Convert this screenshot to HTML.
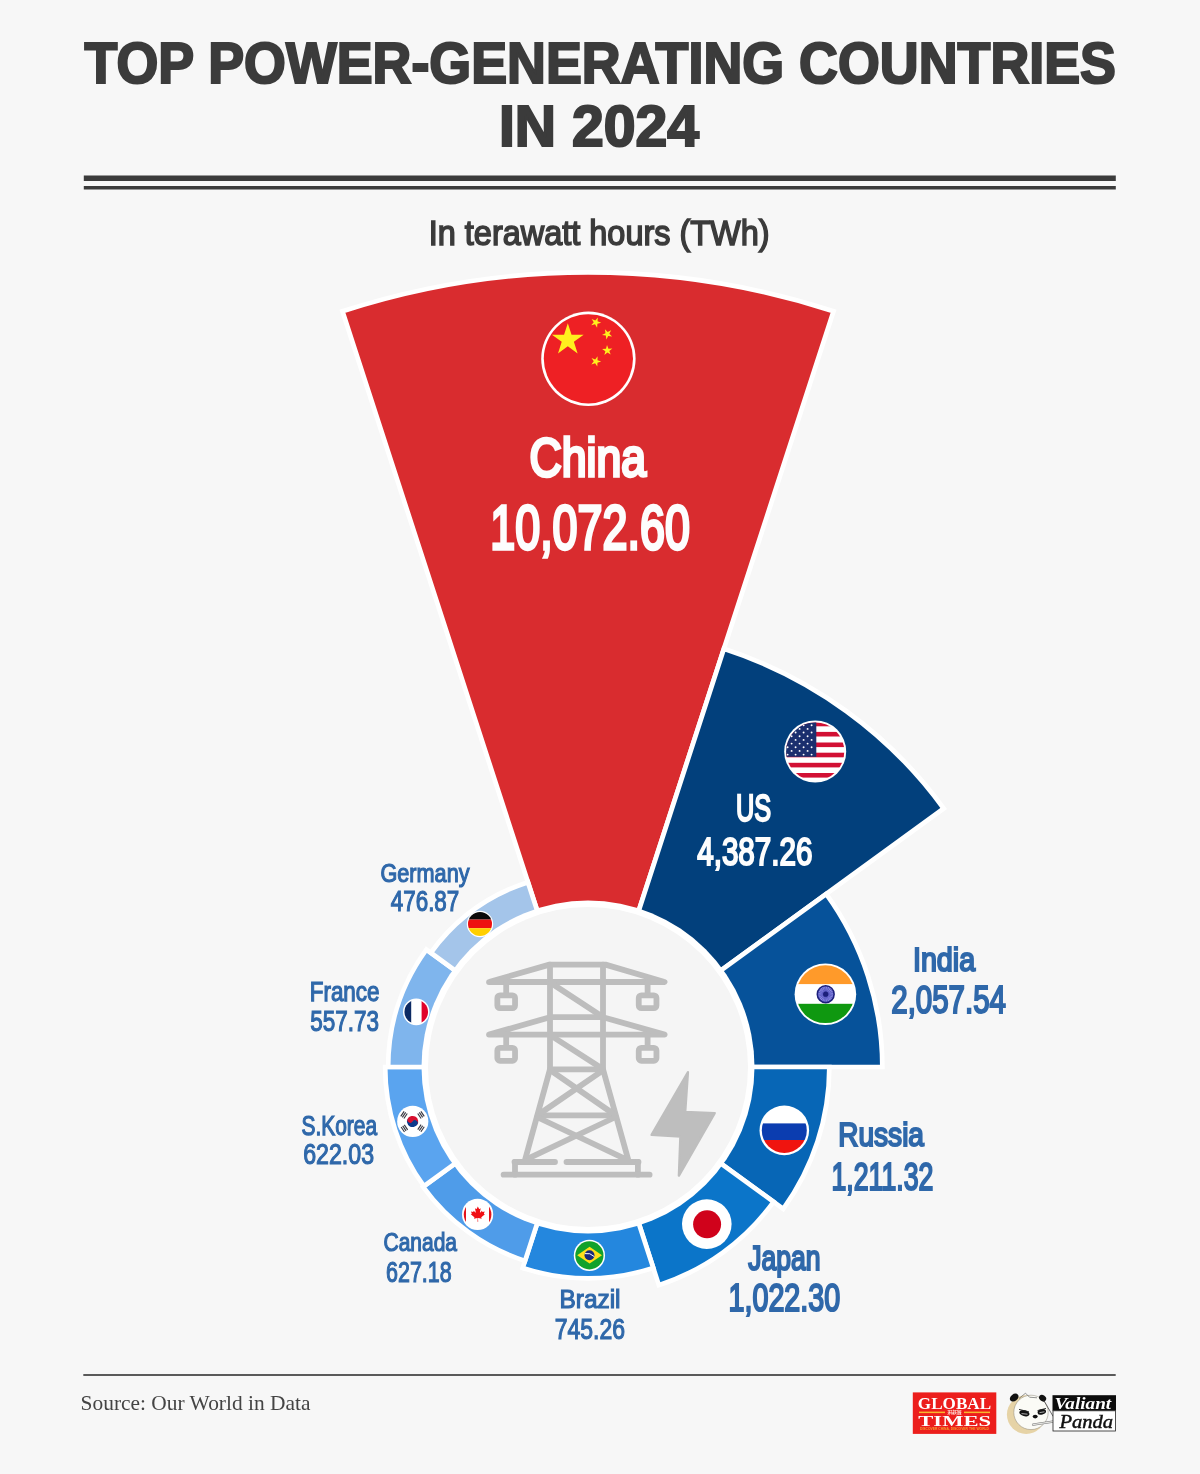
<!DOCTYPE html>
<html lang="en"><head><meta charset="utf-8"><title>Top power-generating countries in 2024</title>
<style>html,body{margin:0;padding:0;background:#f7f7f7}svg{display:block}text{white-space:pre}</style></head><body>
<svg width="1200" height="1474" viewBox="0 0 1200 1474" role="img" aria-label="Top power-generating countries in 2024">
<rect width="1200" height="1474" fill="#f7f7f7"/>
<!-- header -->
<text x="84.50" y="83.00" textLength="1031.50" lengthAdjust="spacingAndGlyphs" font-family="'Liberation Sans', sans-serif" font-weight="bold" font-size="57.32" fill="#3b3b3b" stroke="#3b3b3b" stroke-width="2.2">TOP POWER-GENERATING COUNTRIES</text>
<text x="498.95" y="146.00" textLength="200.00" lengthAdjust="spacingAndGlyphs" font-family="'Liberation Sans', sans-serif" font-weight="bold" font-size="57.99" fill="#3b3b3b" stroke="#3b3b3b" stroke-width="2.2">IN 2024</text>
<rect x="83.8" y="175.5" width="1032" height="5.5" fill="#3b3b3b"/>
<rect x="83.8" y="186" width="1032" height="3.5" fill="#3b3b3b"/>
<text x="428.75" y="245.00" textLength="340.85" lengthAdjust="spacingAndGlyphs" font-family="'Liberation Sans', sans-serif" font-weight="normal" font-size="35.63" fill="#3b3b3b" stroke="#3b3b3b" stroke-width="1.6">In terawatt hours (TWh)</text>
<!-- chart sectors -->
<g>
<path d="M541.65,924.34 L342.47,311.34 A794.55,794.55 0 0 1 833.53,311.34 L634.35,924.34 A150,150 0 0 0 541.65,924.34 Z" fill="#d92c2f" stroke="#ffffff" stroke-width="4.7" stroke-linejoin="miter"/>
<path d="M634.35,924.34 L723.89,648.77 A439.75,439.75 0 0 1 943.77,808.52 L709.35,978.83 A150,150 0 0 0 634.35,924.34 Z" fill="#02407c" stroke="#ffffff" stroke-width="4.7" stroke-linejoin="miter"/>
<path d="M709.35,978.83 L826.13,893.99 A294.35,294.35 0 0 1 882.35,1067.00 L738.00,1067.00 A150,150 0 0 0 709.35,978.83 Z" fill="#06529a" stroke="#ffffff" stroke-width="4.7" stroke-linejoin="miter"/>
<path d="M738.00,1067.00 L829.35,1067.00 A241.35,241.35 0 0 1 783.26,1208.86 L709.35,1155.17 A150,150 0 0 0 738.00,1067.00 Z" fill="#0766b6" stroke="#ffffff" stroke-width="4.7" stroke-linejoin="miter"/>
<path d="M709.35,1155.17 L773.55,1201.81 A229.35,229.35 0 0 1 658.87,1285.12 L634.35,1209.66 A150,150 0 0 0 709.35,1155.17 Z" fill="#0b75c9" stroke="#ffffff" stroke-width="4.7" stroke-linejoin="miter"/>
<path d="M634.35,1209.66 L653.31,1268.01 A211.35,211.35 0 0 1 522.69,1268.01 L541.65,1209.66 A150,150 0 0 0 634.35,1209.66 Z" fill="#2487de" stroke="#ffffff" stroke-width="4.7" stroke-linejoin="miter"/>
<path d="M541.65,1209.66 L525.01,1260.87 A203.85,203.85 0 0 1 423.08,1186.82 L466.65,1155.17 A150,150 0 0 0 541.65,1209.66 Z" fill="#4f9ce9" stroke="#ffffff" stroke-width="4.7" stroke-linejoin="miter"/>
<path d="M466.65,1155.17 L423.89,1186.23 A202.85,202.85 0 0 1 385.15,1067.00 L438.00,1067.00 A150,150 0 0 0 466.65,1155.17 Z" fill="#5aa4ef" stroke="#ffffff" stroke-width="4.7" stroke-linejoin="miter"/>
<path d="M438.00,1067.00 L388.15,1067.00 A199.85,199.85 0 0 1 426.32,949.53 L466.65,978.83 A150,150 0 0 0 438.00,1067.00 Z" fill="#7fb5ed" stroke="#ffffff" stroke-width="4.7" stroke-linejoin="miter"/>
<path d="M466.65,978.83 L430.77,952.76 A194.35,194.35 0 0 1 527.94,882.16 L541.65,924.34 A150,150 0 0 0 466.65,978.83 Z" fill="#a4c5ea" stroke="#ffffff" stroke-width="4.7" stroke-linejoin="miter"/>
</g>
<circle cx="588.0" cy="1067.0" r="166.5" fill="#ffffff"/>
<circle cx="588.0" cy="1067.0" r="160" fill="#f5f5f5"/>
<!-- tower icon -->
<g fill="none" stroke="#bdbdbd" stroke-width="5.8" stroke-linecap="round" stroke-linejoin="round">
<path d="M489,982 L549.5,964.6 L605.5,964.6 L664.6,982 Z"/>
<path d="M489,1034.6 L550,1017.2 L603,1017.2 L664.6,1034.6 Z"/>
<path d="M550,964.6 L550,1069.3 L525,1160"/>
<path d="M603,964.6 L603,1069.3 L628.3,1160"/>
<path d="M551,983 L602,1016.5"/>
<path d="M551,1035.6 L602,1068.5"/>
<path d="M550,1069.3 L603,1069.3"/>
<path d="M537.7,1115.3 L613.7,1115.3"/>
<path d="M552,1071.3 L611.5,1112.5"/>
<path d="M601.5,1071.3 L541.5,1112.5"/>
<path d="M540,1118.5 L623.5,1158.2"/>
<path d="M612.5,1118.5 L529,1158.2"/>
<path d="M514.5,1162 L555,1162"/>
<path d="M566.5,1162 L638.5,1162"/>
<path d="M515,1162 L515,1174.7"/>
<path d="M637.9,1162 L637.9,1174.7"/>
<path d="M503.6,1174.7 L649.6,1174.7"/>
<path d="M506.2,982 L506.2,994"/>
<rect x="497.35" y="995.30" width="17.7" height="12.9" rx="2.6"/>
<path d="M506.2,1034.6 L506.2,1046.6"/>
<rect x="497.35" y="1047.90" width="17.7" height="12.9" rx="2.6"/>
<path d="M647.6,982 L647.6,994"/>
<rect x="638.75" y="995.30" width="17.7" height="12.9" rx="2.6"/>
<path d="M647.6,1034.6 L647.6,1046.6"/>
<rect x="638.75" y="1047.90" width="17.7" height="12.9" rx="2.6"/>
</g>
<path d="M687.9,1072.3 L651.6,1134.9 L680.4,1136.5 L678.9,1175.6 L714.7,1113.1 L685.2,1112 Z" fill="#bebebe" stroke="#bebebe" stroke-width="2.4" stroke-linejoin="round"/>
<!-- flags -->
<defs>
<clipPath id="cUS"><circle cx="815.2" cy="751.5" r="29.1"/></clipPath>
<clipPath id="cIN"><circle cx="825.4" cy="994.2" r="28.9"/></clipPath>
<clipPath id="cRU"><circle cx="784.3" cy="1130.4" r="22.5"/></clipPath>
<clipPath id="cBR"><circle cx="589.4" cy="1255.4" r="14.2"/></clipPath>
<clipPath id="cCA"><circle cx="477.6" cy="1214.4" r="13.8"/></clipPath>
<clipPath id="cFR"><circle cx="416.25" cy="1011.9" r="11.8"/></clipPath>
<clipPath id="cDE"><circle cx="480" cy="924" r="12"/></clipPath>
</defs>
<g><circle cx="588.4" cy="358.8" r="47.2" fill="#ffffff"/><circle cx="588.4" cy="358.8" r="44.6" fill="#ee2024"/>
<polygon points="567.80,323.20 571.55,334.74 583.68,334.74 573.87,341.87 577.62,353.41 567.80,346.28 557.98,353.41 561.73,341.87 551.92,334.74 564.05,334.74" fill="#fff01e"/>
<polygon points="591.22,325.26 593.74,322.26 591.66,318.93 595.30,320.40 597.82,317.39 597.55,321.31 601.19,322.78 597.38,323.73 597.11,327.64 595.03,324.31" fill="#fff01e"/>
<polygon points="601.96,334.88 605.47,333.14 604.90,329.26 607.65,332.07 611.16,330.32 609.34,333.80 612.08,336.61 608.22,335.95 606.40,339.42 605.83,335.54" fill="#fff01e"/>
<polygon points="602.08,349.01 606.00,348.80 607.01,345.01 608.42,348.67 612.34,348.45 609.29,350.93 610.71,354.59 607.41,352.46 604.37,354.93 605.38,351.14" fill="#fff01e"/>
<polygon points="591.52,358.11 595.21,359.42 597.60,356.31 597.50,360.23 601.20,361.54 597.44,362.66 597.33,366.58 595.11,363.34 591.35,364.46 593.74,361.35" fill="#fff01e"/>
</g>
<g><circle cx="815.2" cy="751.5" r="31" fill="#ffffff"/><g clip-path="url(#cUS)">
<rect x="780" y="715" width="70" height="70" fill="#ffffff"/>
<rect x="780" y="721.7" width="70" height="4.6" fill="#d21034"/>
<rect x="780" y="731.9" width="70" height="4.6" fill="#d21034"/>
<rect x="780" y="742.5" width="70" height="4.6" fill="#d21034"/>
<rect x="780" y="752.7" width="70" height="4.6" fill="#d21034"/>
<rect x="780" y="762.8" width="70" height="4.6" fill="#d21034"/>
<rect x="780" y="773.0" width="70" height="4.6" fill="#d21034"/>
<rect x="780" y="715" width="36.3" height="41.8" fill="#1b2f6e"/>
<g fill="#ffffff"><circle cx="811.6" cy="725.2" r="0.95"/><circle cx="803.6" cy="725.2" r="0.95"/><circle cx="795.6" cy="725.2" r="0.95"/><circle cx="787.6" cy="725.2" r="0.95"/><circle cx="779.6" cy="725.2" r="0.95"/><circle cx="807.6" cy="728.9" r="0.95"/><circle cx="799.6" cy="728.9" r="0.95"/><circle cx="791.6" cy="728.9" r="0.95"/><circle cx="783.6" cy="728.9" r="0.95"/><circle cx="775.6" cy="728.9" r="0.95"/><circle cx="811.6" cy="732.5" r="0.95"/><circle cx="803.6" cy="732.5" r="0.95"/><circle cx="795.6" cy="732.5" r="0.95"/><circle cx="787.6" cy="732.5" r="0.95"/><circle cx="779.6" cy="732.5" r="0.95"/><circle cx="807.6" cy="736.2" r="0.95"/><circle cx="799.6" cy="736.2" r="0.95"/><circle cx="791.6" cy="736.2" r="0.95"/><circle cx="783.6" cy="736.2" r="0.95"/><circle cx="775.6" cy="736.2" r="0.95"/><circle cx="811.6" cy="739.9" r="0.95"/><circle cx="803.6" cy="739.9" r="0.95"/><circle cx="795.6" cy="739.9" r="0.95"/><circle cx="787.6" cy="739.9" r="0.95"/><circle cx="779.6" cy="739.9" r="0.95"/><circle cx="807.6" cy="743.6" r="0.95"/><circle cx="799.6" cy="743.6" r="0.95"/><circle cx="791.6" cy="743.6" r="0.95"/><circle cx="783.6" cy="743.6" r="0.95"/><circle cx="775.6" cy="743.6" r="0.95"/><circle cx="811.6" cy="747.2" r="0.95"/><circle cx="803.6" cy="747.2" r="0.95"/><circle cx="795.6" cy="747.2" r="0.95"/><circle cx="787.6" cy="747.2" r="0.95"/><circle cx="779.6" cy="747.2" r="0.95"/><circle cx="807.6" cy="750.9" r="0.95"/><circle cx="799.6" cy="750.9" r="0.95"/><circle cx="791.6" cy="750.9" r="0.95"/><circle cx="783.6" cy="750.9" r="0.95"/><circle cx="775.6" cy="750.9" r="0.95"/><circle cx="811.6" cy="754.6" r="0.95"/><circle cx="803.6" cy="754.6" r="0.95"/><circle cx="795.6" cy="754.6" r="0.95"/><circle cx="787.6" cy="754.6" r="0.95"/><circle cx="779.6" cy="754.6" r="0.95"/></g>
</g></g>
<g><circle cx="825.4" cy="994.2" r="30.8" fill="#ffffff"/><g clip-path="url(#cIN)">
<rect x="790" y="960" width="70" height="24.3" fill="#ff9a2a"/>
<rect x="790" y="984.3" width="70" height="19.5" fill="#ffffff"/>
<rect x="790" y="1003.8" width="70" height="26" fill="#0f9810"/>
</g>
<circle cx="825.7" cy="994.2" r="8.4" fill="#8f8fe6" stroke="#1c1f7a" stroke-width="1.6"/>
<path d="M817.70,994.20 L833.70,994.20 M817.97,992.13 L833.43,996.27 M818.77,990.20 L832.63,998.20 M820.04,988.54 L831.36,999.86 M821.70,987.27 L829.70,1001.13 M823.63,986.47 L827.77,1001.93 M825.70,986.20 L825.70,1002.20 M827.77,986.47 L823.63,1001.93 M829.70,987.27 L821.70,1001.13 M831.36,988.54 L820.04,999.86 M832.63,990.20 L818.77,998.20 M833.43,992.13 L817.97,996.27" stroke="#2a2aa0" stroke-width="0.5" fill="none"/>
<circle cx="825.7" cy="994.2" r="2.6" fill="#1c1f7a"/>
</g>
<g><circle cx="784.3" cy="1130.4" r="24.8" fill="#ffffff"/><g clip-path="url(#cRU)">
<rect x="755" y="1123.4" width="60" height="16.6" fill="#0b3db0"/>
<rect x="755" y="1140" width="60" height="20" fill="#f0140f"/>
</g></g>
<g><circle cx="706.8" cy="1224.1" r="24.8" fill="#ffffff"/><circle cx="707.1" cy="1224.3" r="14" fill="#d0021b"/></g>
<g><circle cx="589.4" cy="1255.4" r="15.6" fill="#ffffff"/><circle cx="589.4" cy="1255.4" r="14.1" fill="#12a22c"/>
<polygon points="577.2,1255.2 589.6,1246.7 602,1255.2 589.6,1263.4" fill="#ffe01a"/>
<circle cx="589.5" cy="1255.2" r="5" fill="#1a2a7a"/>
<path d="M584.9,1253.6 Q590,1252.4 594.3,1256.6" stroke="#ffffff" stroke-width="1" fill="none"/>
</g>
<g><circle cx="477.6" cy="1214.4" r="15.6" fill="#ffffff"/><g clip-path="url(#cCA)">
<rect x="460" y="1198" width="6.0" height="33" fill="#e3121b"/>
<rect x="489.0" y="1198" width="6" height="33" fill="#e3121b"/>
</g>
<path transform="translate(477.85,1214.05) scale(0.0038)" d="m-90 2030 45-863a95 95 0 0 0-111-98l-859 151 116-320a65 65 0 0 0-20-73l-941-762 212-99a65 65 0 0 0 34-79l-186-572 542 115a65 65 0 0 0 73-38l105-247 423 454a65 65 0 0 0 111-57l-204-1052 327 189a65 65 0 0 0 91-27l332-652 332 652a65 65 0 0 0 91 27l327-189-204 1052a65 65 0 0 0 111 57l423-454 105 247a65 65 0 0 0 73 38l542-115-186 572a65 65 0 0 0 34 79l212 99-941 762a65 65 0 0 0-20 73l116 320-859-151a95 95 0 0 0-111 98l45 863z" fill="#f00f14"/>
</g>
<g><circle cx="412.75" cy="1121.4" r="15.6" fill="#ffffff"/>
<g transform="rotate(33.7 412.6 1121.5)">
<path d="M407.0,1121.5 A5.6,5.6 0 0 1 418.20000000000005,1121.5 Z" fill="#d8102f"/>
<path d="M407.0,1121.5 A5.6,5.6 0 0 0 418.20000000000005,1121.5 Z" fill="#0b3a8c"/>
<circle cx="409.8" cy="1121.5" r="2.8" fill="#d8102f"/>
<circle cx="415.40000000000003" cy="1121.5" r="2.8" fill="#0b3a8c"/>
</g>
<g transform="translate(404.00,1114.90) rotate(-56)" stroke="#3a3a44" stroke-width="1.15"><path d="M-3,-1.9 H3 M-3,0 H3 M-3,1.9 H3"/></g>
<g transform="translate(421.00,1114.90) rotate(56)" stroke="#3a3a44" stroke-width="1.15"><path d="M-3,-1.9 H3 M-3,0 H3 M-3,1.9 H3"/></g>
<g transform="translate(404.40,1128.40) rotate(56)" stroke="#3a3a44" stroke-width="1.15"><path d="M-3,-1.9 H3 M-3,0 H3 M-3,1.9 H3"/></g>
<g transform="translate(421.00,1128.20) rotate(-56)" stroke="#3a3a44" stroke-width="1.15"><path d="M-3,-1.9 H3 M-3,0 H3 M-3,1.9 H3"/></g>
</g>
<g><circle cx="416.25" cy="1011.9" r="13.3" fill="#ffffff"/><g clip-path="url(#cFR)">
<rect x="400" y="995" width="11.2" height="34" fill="#0c2a63"/>
<rect x="421.6" y="995" width="12" height="34" fill="#e0022a"/>
</g></g>
<g><circle cx="480" cy="924" r="13.2" fill="#ffffff"/><g clip-path="url(#cDE)">
<rect x="465" y="910" width="30" height="9.6" fill="#0a0a0a"/>
<rect x="465" y="919.6" width="30" height="8.6" fill="#ee1010"/>
<rect x="465" y="928.2" width="30" height="10" fill="#ffcf00"/>
</g></g>
<!-- labels -->
<text x="529.55" y="476.10" textLength="116.50" lengthAdjust="spacingAndGlyphs" font-family="'Liberation Sans', sans-serif" font-weight="normal" font-size="53.60" fill="#fdfdfd" stroke="#fdfdfd" stroke-width="3.32">China</text>
<text x="490.25" y="548.70" textLength="199.60" lengthAdjust="spacingAndGlyphs" font-family="'Liberation Sans', sans-serif" font-weight="normal" font-size="62.92" fill="#fdfdfd" stroke="#fdfdfd" stroke-width="3.46">10,072.60</text>
<text x="736.10" y="821.30" textLength="35.05" lengthAdjust="spacingAndGlyphs" font-family="'Liberation Sans', sans-serif" font-weight="normal" font-size="36.56" fill="#fdfdfd" stroke="#fdfdfd" stroke-width="2.27">US</text>
<text x="697.20" y="865.30" textLength="115.30" lengthAdjust="spacingAndGlyphs" font-family="'Liberation Sans', sans-serif" font-weight="normal" font-size="38.45" fill="#fdfdfd" stroke="#fdfdfd" stroke-width="2.11">4,387.26</text>
<text x="912.90" y="970.70" textLength="62.35" lengthAdjust="spacingAndGlyphs" font-family="'Liberation Sans', sans-serif" font-weight="normal" font-size="33.76" fill="#2f68aa" stroke="#2f68aa" stroke-width="2.09">India</text>
<text x="891.25" y="1013.30" textLength="114.75" lengthAdjust="spacingAndGlyphs" font-family="'Liberation Sans', sans-serif" font-weight="normal" font-size="38.45" fill="#2f68aa" stroke="#2f68aa" stroke-width="2.11">2,057.54</text>
<text x="838.20" y="1146.00" textLength="85.80" lengthAdjust="spacingAndGlyphs" font-family="'Liberation Sans', sans-serif" font-weight="normal" font-size="33.43" fill="#2f68aa" stroke="#2f68aa" stroke-width="2.07">Russia</text>
<text x="831.40" y="1189.60" textLength="102.00" lengthAdjust="spacingAndGlyphs" font-family="'Liberation Sans', sans-serif" font-weight="normal" font-size="37.94" fill="#2f68aa" stroke="#2f68aa" stroke-width="2.09">1,211.32</text>
<text x="748.20" y="1269.60" textLength="72.25" lengthAdjust="spacingAndGlyphs" font-family="'Liberation Sans', sans-serif" font-weight="normal" font-size="34.93" fill="#2f68aa" stroke="#2f68aa" stroke-width="2.17">Japan</text>
<text x="728.50" y="1310.70" textLength="111.75" lengthAdjust="spacingAndGlyphs" font-family="'Liberation Sans', sans-serif" font-weight="normal" font-size="38.41" fill="#2f68aa" stroke="#2f68aa" stroke-width="2.11">1,022.30</text>
<text x="559.50" y="1307.50" textLength="61.00" lengthAdjust="spacingAndGlyphs" font-family="'Liberation Sans', sans-serif" font-weight="normal" font-size="25.52" fill="#2f68aa" stroke="#2f68aa" stroke-width="1.17">Brazil</text>
<text x="554.75" y="1339.00" textLength="70.25" lengthAdjust="spacingAndGlyphs" font-family="'Liberation Sans', sans-serif" font-weight="normal" font-size="28.66" fill="#2f68aa" stroke="#2f68aa" stroke-width="1.2">745.26</text>
<text x="383.50" y="1250.50" textLength="73.50" lengthAdjust="spacingAndGlyphs" font-family="'Liberation Sans', sans-serif" font-weight="normal" font-size="26.24" fill="#2f68aa" stroke="#2f68aa" stroke-width="1.21">Canada</text>
<text x="386.10" y="1282.00" textLength="65.55" lengthAdjust="spacingAndGlyphs" font-family="'Liberation Sans', sans-serif" font-weight="normal" font-size="28.66" fill="#2f68aa" stroke="#2f68aa" stroke-width="1.2">627.18</text>
<text x="301.50" y="1134.50" textLength="75.50" lengthAdjust="spacingAndGlyphs" font-family="'Liberation Sans', sans-serif" font-weight="normal" font-size="27.21" fill="#2f68aa" stroke="#2f68aa" stroke-width="1.25">S.Korea</text>
<text x="303.25" y="1164.00" textLength="70.75" lengthAdjust="spacingAndGlyphs" font-family="'Liberation Sans', sans-serif" font-weight="normal" font-size="28.66" fill="#2f68aa" stroke="#2f68aa" stroke-width="1.2">622.03</text>
<text x="309.75" y="1000.80" textLength="69.75" lengthAdjust="spacingAndGlyphs" font-family="'Liberation Sans', sans-serif" font-weight="normal" font-size="27.26" fill="#2f68aa" stroke="#2f68aa" stroke-width="1.25">France</text>
<text x="310.25" y="1031.00" textLength="68.75" lengthAdjust="spacingAndGlyphs" font-family="'Liberation Sans', sans-serif" font-weight="normal" font-size="29.39" fill="#2f68aa" stroke="#2f68aa" stroke-width="1.23">557.73</text>
<text x="380.50" y="881.50" textLength="89.00" lengthAdjust="spacingAndGlyphs" font-family="'Liberation Sans', sans-serif" font-weight="normal" font-size="26.49" fill="#2f68aa" stroke="#2f68aa" stroke-width="1.22">Germany</text>
<text x="390.85" y="911.00" textLength="68.40" lengthAdjust="spacingAndGlyphs" font-family="'Liberation Sans', sans-serif" font-weight="normal" font-size="28.66" fill="#2f68aa" stroke="#2f68aa" stroke-width="1.2">476.87</text>
<!-- footer -->
<rect x="83.3" y="1374.2" width="1032.4" height="1.6" fill="#333"/>
<text x="80.55" y="1410.30" textLength="229.90" lengthAdjust="spacingAndGlyphs" font-family="'Liberation Serif', serif" font-weight="normal" font-size="20.18" fill="#444444">Source: Our World in Data</text>
<!-- logos -->
<g>
<rect x="912.8" y="1392.4" width="83.5" height="41.5" fill="#ec1e1c"/>
<text x="917.85" y="1409.30" textLength="73.25" lengthAdjust="spacingAndGlyphs" font-family="'Liberation Serif', serif" font-weight="bold" font-size="17.32" fill="#ffffff">GLOBAL</text>
<rect x="919" y="1411.6" width="26" height="1.5" fill="#f8b62e"/><rect x="964" y="1411.6" width="26" height="1.5" fill="#f8b62e"/>
<text x="947.5" y="1414.2" textLength="14" lengthAdjust="spacingAndGlyphs" font-family="'Liberation Sans', 'Noto Sans CJK SC', sans-serif" font-weight="bold" font-size="5" fill="#ffe9e0">环球时报</text>
<text x="918.35" y="1425.90" textLength="72.65" lengthAdjust="spacingAndGlyphs" font-family="'Liberation Serif', serif" font-weight="bold" font-size="15.47" fill="#ffffff">TIMES</text>
<text x="920" y="1430.1" textLength="69" lengthAdjust="spacingAndGlyphs" font-family="'Liberation Sans', sans-serif" font-weight="bold" font-size="3.2" fill="#f6ad30" opacity="0.9">DISCOVER CHINA, DISCOVER THE WORLD</text>
</g>
<g>
<circle cx="1026.2" cy="1414.6" r="19.3" fill="#e6d3a6"/>
<circle cx="1031" cy="1412.4" r="17.2" fill="#fbfbf6" stroke="#8a8576" stroke-width="0.5"/>
<ellipse cx="1014.2" cy="1397.6" rx="4.8" ry="3.4" transform="rotate(-38 1014.2 1397.6)" fill="#111"/>
<ellipse cx="1042.6" cy="1398.2" rx="3.8" ry="3" transform="rotate(38 1042.6 1398.2)" fill="#111"/>
<path d="M1019,1398.5 L1025.5,1393.2 L1029.5,1397.2 L1037,1397.8" fill="none" stroke="#666" stroke-width="0.7"/>
<ellipse cx="1024.4" cy="1413.2" rx="5.2" ry="3" transform="rotate(14 1024.4 1413.2)" fill="#111"/>
<ellipse cx="1041.8" cy="1411.9" rx="4.3" ry="2.7" transform="rotate(-14 1041.8 1411.9)" fill="#111"/>
<path d="M1019,1409.4 L1029,1411.8 M1037.5,1410.6 L1046,1408.4" stroke="#222" stroke-width="0.9" fill="none"/><path d="M1021.5,1413.6 L1027.5,1414.2 M1039.5,1412.6 L1044.5,1411.8" stroke="#eee" stroke-width="0.7" fill="none"/>
<ellipse cx="1035.2" cy="1416.6" rx="2.5" ry="1.8" fill="#111"/>
<path d="M1043.5,1400 L1053.2,1416.5" stroke="#333" stroke-width="0.7"/>
<path d="M1033,1424.6 L1054.5,1421.4" stroke="#777" stroke-width="2.2" stroke-linecap="round"/>
<path d="M1033,1424.6 L1054.5,1421.4" stroke="#e4e4e0" stroke-width="1.2" stroke-linecap="round"/>
<rect x="1052.5" y="1395.2" width="63.5" height="15.6" fill="#0c0c0c"/>
<rect x="1053" y="1410.8" width="62.6" height="20.2" fill="#ffffff" stroke="#222" stroke-width="0.8"/>
<text x="1054.60" y="1408.70" textLength="56.60" lengthAdjust="spacingAndGlyphs" font-family="'Liberation Serif', serif" font-weight="bold" font-size="16.39" fill="#ffffff" font-style="italic">Valiant</text>
<text x="1059.50" y="1427.70" textLength="53.65" lengthAdjust="spacingAndGlyphs" font-family="'Liberation Serif', serif" font-weight="normal" font-size="18.88" fill="#111111" font-style="italic" stroke="#111111" stroke-width="0.47">Panda</text>
</g>
</svg></body></html>
